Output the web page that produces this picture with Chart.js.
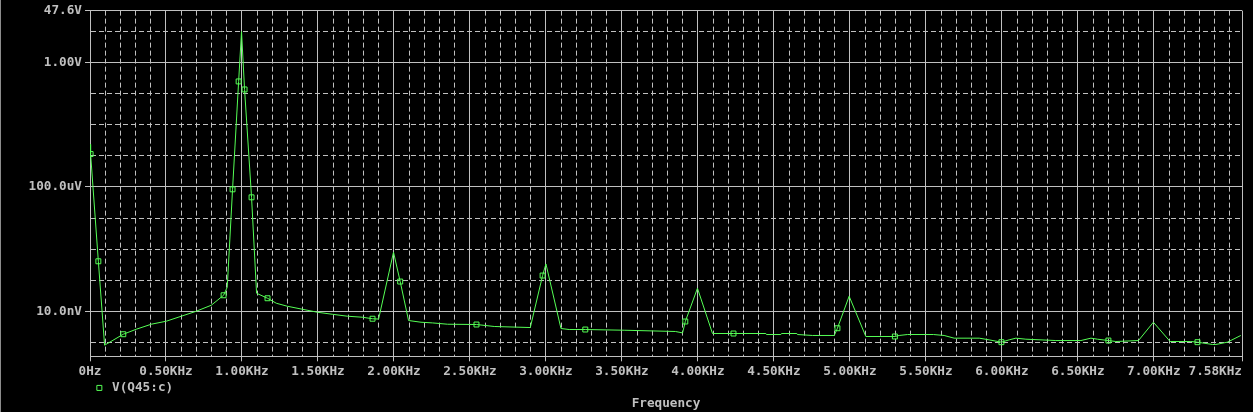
<!DOCTYPE html>
<html>
<head>
<meta charset="utf-8">
<script src="https://cdn.jsdelivr.net/npm/chart.js@4/dist/chart.umd.min.js"></script>
<style>
  html, body { margin: 0; padding: 0; background: #000; }
  #wrap { position: relative; width: 1253px; height: 412px; }
  #edge { position: absolute; left: 0; top: 0; width: 1px; height: 412px; background: #8c8c8c; }
</style>
</head>
<body>
<div id="wrap">
  <canvas id="fft" width="1253" height="412"></canvas>
  <div id="edge"></div>
</div>
<script>
// FFT of V(Q45:c), frequency in KHz, magnitude in volts
const freqKHz = [
    0, 0.004, 0.055, 0.096, 0.219, 0.305, 0.403, 0.502, 0.601, 0.699,
    0.798, 0.879, 0.903, 0.938, 0.978, 0.997, 1.017, 1.063, 1.096, 1.168,
    1.226, 1.298, 1.397, 1.496, 1.594, 1.693, 1.791, 1.859, 1.899, 1.997,
    2.041, 2.096, 2.178, 2.254, 2.353, 2.543, 2.660, 2.897, 2.978, 3.000,
    3.099, 3.153, 3.259, 3.515, 3.852, 3.899, 3.917, 3.997, 4.096, 4.234,
    4.447, 4.451, 4.546, 4.550, 4.651, 4.655, 4.754, 4.897, 4.918, 4.995,
    5.105, 5.296, 5.324, 5.379, 5.550, 5.620, 5.686, 5.851, 5.916, 5.997,
    6.048, 6.092, 6.158, 6.355, 6.520, 6.586, 6.629, 6.701, 6.750, 6.899,
    6.997, 7.107, 7.243, 7.287, 7.386, 7.408, 7.484, 7.572
];

const volts = [
    2.36e-3, 1.15e-3, 4.06e-7, 8.07e-10, 1.82e-9, 2.64e-9, 3.82e-9, 4.78e-9, 6.92e-9, 1.0e-8,
    1.56e-8, 3.27e-8, 5.93e-8, 8.41e-5, 0.250, 10.0, 0.138, 4.65e-5, 3.80e-8, 2.62e-8,
    1.81e-8, 1.45e-8, 1.16e-8, 9.3e-9, 8.0e-9, 6.92e-9, 6.43e-9, 5.74e-9, 5.6e-9, 7.91e-7,
    9.04e-8, 5.03e-9, 4.43e-9, 4.21e-9, 3.82e-9, 3.74e-9, 3.23e-9, 2.99e-9, 1.41e-7, 3.33e-7,
    2.78e-9, 2.58e-9, 2.58e-9, 2.45e-9, 2.23e-9, 2.01e-9, 4.67e-9, 5.50e-8, 1.92e-9, 1.92e-9,
    1.92e-9, 1.78e-9, 1.78e-9, 1.92e-9, 1.92e-9, 1.78e-9, 1.66e-9, 1.66e-9, 2.84e-9, 3.04e-8,
    1.54e-9, 1.54e-9, 1.66e-9, 1.78e-9, 1.78e-9, 1.66e-9, 1.36e-9, 1.36e-9, 1.20e-9, 1.01e-9,
    1.20e-9, 1.36e-9, 1.26e-9, 1.14e-9, 1.14e-9, 1.36e-9, 1.26e-9, 1.14e-9, 1.06e-9, 1.14e-9,
    4.43e-9, 1.06e-9, 1.06e-9, 1.01e-9, 8.51e-10, 8.51e-10, 1.01e-9, 1.66e-9
];

// points that carry a square marker
const markerIdx = [1, 2, 4, 11, 13, 14, 16, 17, 19, 27, 30, 35, 38, 42, 46, 49, 58, 61, 69, 77, 83];

const xTickValues = [0, 0.5, 1, 1.5, 2, 2.5, 3, 3.5, 4, 4.5, 5, 5.5, 6, 6.5, 7, 7.58];
const xTickLabels = ["0Hz", "0.50KHz", "1.00KHz", "1.50KHz", "2.00KHz", "2.50KHz", "3.00KHz",
    "3.50KHz", "4.00KHz", "4.50KHz", "5.00KHz", "5.50KHz", "6.00KHz", "6.50KHz", "7.00KHz", "7.58KHz"];

const yTickValues = [47.6, 1, 1e-4, 1e-8];
const yTickLabels = ["47.6V", "1.00V", "100.0uV", "10.0nV"];

const X_MAX = 7.58;
const Y_MAX = 47.6;
const Y_MIN = 3.54e-10;

const GREEN = "#55ff55";
const GRAY = "#c0c0c0";
const DASH = [5, 3];

const isMajorX = v => xTickValues.some(a => Math.abs(a - v) < 1e-6);
const isMajorY = v => v <= Y_MIN * 1.001 ||
    yTickValues.some(a => Math.abs(Math.log10(a) - Math.log10(v)) < 1e-6);

Chart.defaults.font.family = "'DejaVu Sans Mono', 'Liberation Mono', monospace";
Chart.defaults.font.size = 12.7;
Chart.defaults.font.weight = "bold";
Chart.defaults.color = GRAY;

new Chart(document.getElementById("fft"), {
    type: "line",
    data: {
        datasets: [{
            label: "V(Q45:c)",
            data: freqKHz.map((f, i) => ({ x: f, y: volts[i] })),
            borderColor: GREEN,
            backgroundColor: "rgba(0,0,0,0)",
            borderWidth: 1,
            tension: 0,
            fill: false,
            pointStyle: "rect",
            pointRadius: c => markerIdx.includes(c.dataIndex) ? 3.5 : 0,
            pointBorderColor: GREEN,
            pointBackgroundColor: "rgba(0,0,0,0)",
            pointBorderWidth: 1
        }]
    },
    options: {
        responsive: false,
        devicePixelRatio: 1,
        animation: false,
        events: [],
        layout: { padding: { top: 8, right: 11, left: 0, bottom: 0 } },
        scales: {
            x: {
                type: "linear",
                min: 0,
                max: X_MAX,
                afterBuildTicks: s => {
                    const t = [];
                    for (let i = 0; i <= 75; i++) t.push({ value: i / 10 });
                    t.push({ value: X_MAX });
                    s.ticks = t;
                },
                afterFit: s => {
                    s.paddingRight = 0;
                    s.height -= 4;
                },
                ticks: {
                    autoSkip: false,
                    maxRotation: 0,
                    minRotation: 0,
                    padding: 3,
                    color: GRAY,
                    callback: v => {
                        const k = xTickValues.findIndex(a => Math.abs(a - v) < 1e-6);
                        if (k < 0) return "";
                        // last label sits left of its tick
                        return k === xTickValues.length - 1 ? xTickLabels[k] + "       " : xTickLabels[k];
                    }
                },
                grid: {
                    color: GRAY,
                    lineWidth: 1,
                    tickLength: 5,
                    tickColor: c => c.tick && isMajorX(c.tick.value) ? GRAY : "rgba(0,0,0,0)"
                },
                border: {
                    color: GRAY,
                    dash: c => c.tick && !isMajorX(c.tick.value) ? DASH : []
                }
            },
            y: {
                type: "logarithmic",
                min: Y_MIN,
                max: Y_MAX,
                afterBuildTicks: s => {
                    const t = [{ value: Y_MIN }];
                    for (let e = -9; e <= 1; e++) t.push({ value: Math.pow(10, e) });
                    t.push({ value: Y_MAX });
                    s.ticks = t;
                },
                afterFit: s => { s.width = 90; },
                ticks: {
                    autoSkip: false,
                    padding: 3,
                    color: GRAY,
                    callback: v => {
                        const k = yTickValues.findIndex(a => Math.abs(Math.log10(a) - Math.log10(v)) < 1e-6);
                        return k < 0 ? "" : yTickLabels[k];
                    }
                },
                grid: {
                    color: GRAY,
                    lineWidth: 1,
                    tickLength: 5,
                    tickColor: c => c.tick && isMajorY(c.tick.value) && c.tick.value > Y_MIN * 1.001 ? GRAY : "rgba(0,0,0,0)"
                },
                border: {
                    color: GRAY,
                    dash: c => c.tick && !isMajorY(c.tick.value) ? DASH : []
                }
            }
        },
        plugins: {
            tooltip: { enabled: false },
            legend: {
                position: "bottom",
                align: "start",
                fullSize: false,
                labels: {
                    usePointStyle: true,
                    boxHeight: 5,
                    padding: 3,
                    color: GRAY
                }
            },
            title: {
                display: true,
                text: "Frequency",
                position: "bottom",
                fullSize: false,
                color: GRAY,
                padding: { top: -8, bottom: 0.5 }
            }
        }
    }
});
</script>
</body>
</html>
